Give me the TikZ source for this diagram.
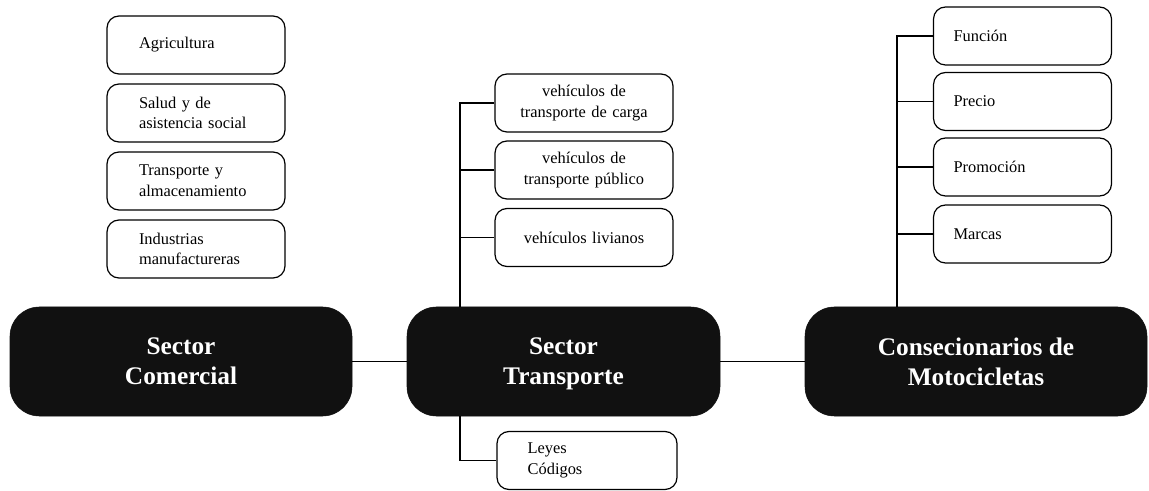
\documentclass[tikz,border=0pt]{standalone}
\usepackage{fontspec}
\setmainfont{Liberation Serif}
\usepackage{tikz}
\usetikzlibrary{positioning,calc}
\definecolor{boxblack}{RGB}{17,17,17}
\newcommand{\subfnt}{\fontsize{12.3}{15.5}\selectfont}
\newcommand{\mainfnt}{\fontsize{19}{22.5}\selectfont\bfseries}

\begin{document}
\begin{tikzpicture}[x=0.75pt,y=-0.75pt,
    mainbox/.style={fill=boxblack,draw=boxblack,rounded corners=22pt,minimum height=81.75pt,
        text=white,align=center,font=\mainfnt,inner sep=0pt},
    subbox/.style={draw,line width=0.9pt,rounded corners=9pt,minimum width=133.5pt,
        minimum height=43.5pt,font=\subfnt,inner ysep=0pt},
    leftsub/.style={subbox,align=left,inner xsep=24pt,text width=85.5pt},
    rightsub/.style={subbox,align=left,inner xsep=15pt,text width=103.5pt},
    midsub/.style={subbox,align=center,inner xsep=4pt,text width=125.5pt},
    link/.style={line width=0.9pt}]
    \useasboundingbox (0,0) rectangle (1149,491);

    % main boxes
    \node[mainbox,minimum width=256.5pt] (com) at (181,361.5) {Sector\\Comercial};
    \node[mainbox,minimum width=234.75pt] (tra) at (563.5,361.5) {Sector\\\raisebox{0pt}[\height][0pt]{Transporte}};
    \node[mainbox,minimum width=256.5pt] (con) at (976,361.5) {Consecionarios de\\Motocicletas};

    % sector comercial
    \node[leftsub] (agri) at (196,45) {Agricultura};
    \node[leftsub] (salud) at (196,113) {Salud y de\\asistencia social};
    \node[leftsub] (almac) at (196,181) {Transporte y\\almacenamiento};
    \node[leftsub] (indus) at (196,249) {Industrias\\manufactureras};

    % sector transporte
    \coordinate (tspine) at (460,99);
    \node[midsub] (carga) at (584,103) {vehículos de\\transporte de carga};
    \node[midsub] (publico) at (584,170) {vehículos de\\transporte público};
    \node[midsub] (livianos) at (584,237.5) {vehículos livianos};
    \node[leftsub,minimum width=135pt,inner xsep=23pt,text width=89pt] (leyes) at (587,460.5) {Leyes\\Códigos};

    % consecionarios
    \coordinate (rspine) at (897,33);
    \node[rightsub] (funcion) at (1022.5,36) {Función};
    \node[rightsub] (precio) at (1022.5,101.5) {Precio};
    \node[rightsub] (promo) at (1022.5,167) {Promoción};
    \node[rightsub] (marcas) at (1022.5,234) {Marcas};

    \draw[link] (com.east) -- (tra.west);
    \draw[link] (tra.east) -- (con.west);

    \draw[link] (tra.north -| tspine) |- (carga.west);
    \draw[link] (tspine |- publico.west) -- (publico.west);
    \draw[link] (tspine |- livianos.west) -- (livianos.west);
    \draw[link] (tra.south -| tspine) |- (leyes.west);

    \draw[link] (con.north -| rspine) |- (funcion.west);
    \draw[link] (rspine |- precio.west) -- (precio.west);
    \draw[link] (rspine |- promo.west) -- (promo.west);
    \draw[link] (rspine |- marcas.west) -- (marcas.west);
\end{tikzpicture}
\end{document}
